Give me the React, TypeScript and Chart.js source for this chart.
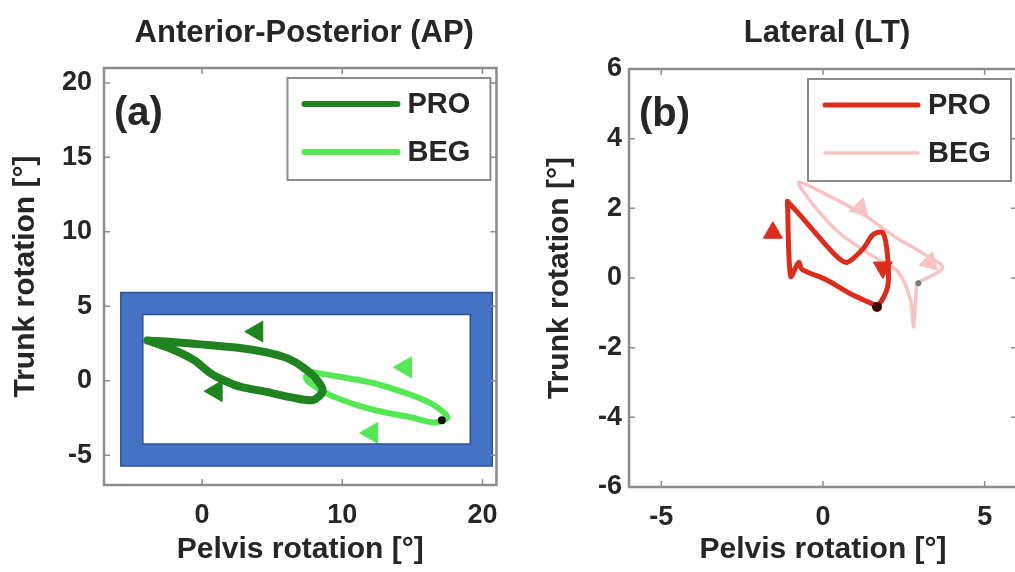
import React, { useEffect, useRef } from 'react';
import { Chart, registerables } from 'chart.js';

Chart.register(...registerables);

const FONT = "'Liberation Sans', Arial, Helvetica, sans-serif";
const TEXT = '#262626';
const AXIS = '#8c8c8c';

// ---------- Panel (a): Anterior-Posterior ----------
const AP_TITLE = 'Anterior-Posterior (AP)';
const AP_TAG = '(a)';
const AP_X_TICKS = [0, 10, 20];
const AP_Y_TICKS = [-5, 0, 5, 10, 15, 20];
const AP_X_RANGE = [-7, 21];
const AP_Y_RANGE = [-7, 21];
const AP_PRO_X = [-3.9, -2.1, 0.4, 2.7, 4.6, 6.1, 7.2, 8.2, 8.6, 7.9, 6.3, 4.6, 2.7, 1.5, 0.6, -0.6, -2.1, -3.9];
const AP_PRO_Y = [2.7, 2.6, 2.4, 2.2, 1.9, 1.5, 0.9, 0.05, -0.7, -1.3, -1.1, -0.75, -0.4, 0.05, 0.5, 1.4, 2.1, 2.7];
const AP_BEG_X = [7.7, 9.9, 12.2, 14.6, 16.3, 17.2, 17.5, 16.5, 14.9, 12.9, 11.1, 9.1, 7.7, 7.4, 7.7];
const AP_BEG_Y = [0.6, 0.25, -0.15, -0.85, -1.5, -2.1, -2.5, -2.8, -2.45, -2.1, -1.65, -0.95, -0.15, 0.25, 0.6];
const AP_PRO_ARROW_X = [3.9, 1.0];
const AP_PRO_ARROW_Y = [3.3, -0.7];
const AP_PRO_ARROW_DIR = [270, 270];
const AP_BEG_ARROW_X = [14.5, 12.1];
const AP_BEG_ARROW_Y = [0.9, -3.5];
const AP_BEG_ARROW_DIR = [270, 270];
const AP_START_X = [17.1];
const AP_START_Y = [-2.65];
// highlight frame (data units): xMin, xMax, yMin, yMax
const AP_FRAME = [-5.8, 20.7, -5.72, 5.93];

// ---------- Panel (b): Lateral ----------
const LT_TITLE = 'Lateral (LT)';
const LT_TAG = '(b)';
const LT_X_TICKS = [-5, 0, 5];
const LT_Y_TICKS = [-6, -4, -2, 0, 2, 4, 6];
const LT_X_RANGE = [-6, 6];
const LT_Y_RANGE = [-6, 6];
const LT_PRO_X = [-1.1, -1.0, -0.75, -0.65, 0.1, 0.85, 1.55, 1.7, 2.0, 2.0, 1.85, 1.55, 1.25, 0.75, 0.45, -0.1, -0.75, -1.1];
const LT_PRO_Y = [2.2, 0.05, 0.45, 0.25, -0.05, -0.45, -0.75, -0.8, -0.25, 0.6, 1.3, 1.25, 0.85, 0.45, 0.6, 1.15, 1.85, 2.2];
const LT_BEG_X = [2.9, 2.85, 2.8, 2.7, 2.3, 1.5, 0.5, -0.3, -0.75, 0.2, 1.2, 2.2, 3.1, 3.7, 2.9];
const LT_BEG_Y = [-0.15, -0.8, -1.4, -0.6, 0.2, 0.65, 1.3, 2.1, 2.75, 2.35, 1.85, 1.2, 0.7, 0.3, -0.15];
const LT_PRO_ARROW_X = [-1.55, 1.85];
const LT_PRO_ARROW_Y = [1.3, 0.3];
const LT_PRO_ARROW_DIR = [0, 180];
const LT_BEG_ARROW_X = [1.15, 3.3];
const LT_BEG_ARROW_Y = [2.0, 0.45];
const LT_BEG_ARROW_DIR = [135, 135];
const LT_PRO_START_X = [1.67];
const LT_PRO_START_Y = [-0.83];
const LT_BEG_START_X = [2.95];
const LT_BEG_START_Y = [-0.15];

const LEGEND_LABELS = ['PRO', 'BEG'];
const X_LABEL = 'Pelvis rotation [°]';
const Y_LABEL = 'Trunk rotation [°]';

const pts = (xs: number[], ys: number[]) => xs.map((x, i) => ({ x, y: ys[i] }));

const lineSet = (label: string, xs: number[], ys: number[], color: string, width: number, legend: boolean) => ({
  label,
  data: pts(xs, ys),
  showLine: true,
  borderColor: color,
  backgroundColor: color,
  borderWidth: width,
  pointRadius: 0,
  tension: 0.3,
  borderCapStyle: 'round',
  borderJoinStyle: 'round',
  legendEntry: legend,
});

const arrowSet = (xs: number[], ys: number[], dirs: number[], color: string, r: number) => ({
  label: 'arrow',
  data: pts(xs, ys),
  showLine: false,
  pointStyle: 'triangle',
  pointRotation: dirs,
  pointRadius: r,
  backgroundColor: color,
  borderColor: color,
  borderWidth: 1,
  legendEntry: false,
});

const dotSet = (xs: number[], ys: number[], color: string, r: number) => ({
  label: 'start',
  data: pts(xs, ys),
  showLine: false,
  pointStyle: 'circle',
  pointRadius: r,
  backgroundColor: color,
  borderColor: color,
  borderWidth: 0,
  legendEntry: false,
});

type PanelCfg = {
  title: string;
  tag: string;
  xRange: number[];
  yRange: number[];
  xTicks: number[];
  yTicks: number[];
  datasets: any[];
  frame?: number[];
  padTop: number;
  padRight: number;
  yWidth: number;
  xHeight: number;
  yTickPad: number;
  yTitlePad: number;
};

const GREEN_PRO = '#1f831f';
const GREEN_BEG = '#55e855';
const RED_PRO = '#dc2c1c';
const RED_BEG = '#f8c3c3';

const AP_CFG: PanelCfg = {
  title: AP_TITLE,
  tag: AP_TAG,
  xRange: AP_X_RANGE,
  yRange: AP_Y_RANGE,
  xTicks: AP_X_TICKS,
  yTicks: AP_Y_TICKS,
  frame: AP_FRAME,
  padTop: 68,
  padRight: 15,
  yWidth: 104,
  xHeight: 87,
  yTickPad: 12,
  yTitlePad: 8,
  datasets: [
    dotSet(AP_START_X, AP_START_Y, '#111111', 4),
    arrowSet(AP_PRO_ARROW_X, AP_PRO_ARROW_Y, AP_PRO_ARROW_DIR, GREEN_PRO, 12),
    lineSet(LEGEND_LABELS[0], AP_PRO_X, AP_PRO_Y, GREEN_PRO, 8, true),
    arrowSet(AP_BEG_ARROW_X, AP_BEG_ARROW_Y, AP_BEG_ARROW_DIR, GREEN_BEG, 12),
    lineSet(LEGEND_LABELS[1], AP_BEG_X, AP_BEG_Y, GREEN_BEG, 6, true),
  ],
};

const LT_CFG: PanelCfg = {
  title: LT_TITLE,
  tag: LT_TAG,
  xRange: LT_X_RANGE,
  yRange: LT_Y_RANGE,
  xTicks: LT_X_TICKS,
  yTicks: LT_Y_TICKS,
  padTop: 69,
  padRight: 13,
  yWidth: 109,
  xHeight: 85,
  yTickPad: 7,
  yTitlePad: 22,
  datasets: [
    dotSet(LT_PRO_START_X, LT_PRO_START_Y, '#3a0a06', 5),
    dotSet(LT_BEG_START_X, LT_BEG_START_Y, '#7a7a7a', 3),
    arrowSet(LT_PRO_ARROW_X, LT_PRO_ARROW_Y, LT_PRO_ARROW_DIR, RED_PRO, 11),
    lineSet(LEGEND_LABELS[0], LT_PRO_X, LT_PRO_Y, RED_PRO, 5, true),
    arrowSet(LT_BEG_ARROW_X, LT_BEG_ARROW_Y, LT_BEG_ARROW_DIR, RED_BEG, 11),
    lineSet(LEGEND_LABELS[1], LT_BEG_X, LT_BEG_Y, RED_BEG, 3.5, true),
  ],
};

const font = (size: number) => ({ family: FONT, size, weight: 'bold' as const });

function makeDeco(cfg: PanelCfg) {
  return {
    id: 'panelDeco',
    afterDatasetsDraw(chart: any) {
      const ctx = chart.ctx as CanvasRenderingContext2D;
      const { left, right, top, bottom } = chart.chartArea;
      const xs = chart.scales.x;
      const ys = chart.scales.y;
      ctx.save();

      // highlight frame
      if (cfg.frame) {
        const fx0 = xs.getPixelForValue(cfg.frame[0]);
        const fx1 = xs.getPixelForValue(cfg.frame[1]);
        const fy0 = ys.getPixelForValue(cfg.frame[3]);
        const fy1 = ys.getPixelForValue(cfg.frame[2]);
        const t = 22;
        ctx.beginPath();
        ctx.rect(fx0, fy0, fx1 - fx0, fy1 - fy0);
        ctx.rect(fx0 + t, fy0 + t, fx1 - fx0 - 2 * t, fy1 - fy0 - 2 * t);
        ctx.fillStyle = '#4472c4';
        ctx.fill('evenodd');
        ctx.strokeStyle = '#2f528f';
        ctx.lineWidth = 1.5;
        ctx.stroke();
      }

      // axes box
      ctx.strokeStyle = AXIS;
      ctx.lineWidth = 2.5;
      ctx.strokeRect(left, top, right - left, bottom - top);
      // inward ticks
      ctx.lineWidth = 1.5;
      ctx.beginPath();
      cfg.xTicks.forEach((v) => {
        const p = xs.getPixelForValue(v);
        ctx.moveTo(p, bottom); ctx.lineTo(p, bottom - 6);
        ctx.moveTo(p, top); ctx.lineTo(p, top + 6);
      });
      cfg.yTicks.forEach((v) => {
        const p = ys.getPixelForValue(v);
        ctx.moveTo(left, p); ctx.lineTo(left + 6, p);
        ctx.moveTo(right, p); ctx.lineTo(right - 6, p);
      });
      ctx.stroke();

      // legend
      const entries = chart.data.datasets.filter((d: any) => d.legendEntry);
      const bw = 203, bh = 102;
      const bx = right - 6 - bw, by = top + 10;
      ctx.fillStyle = '#ffffff';
      ctx.fillRect(bx, by, bw, bh);
      ctx.strokeStyle = AXIS;
      ctx.lineWidth = 2;
      ctx.strokeRect(bx, by, bw, bh);
      entries.forEach((d: any, i: number) => {
        const ly = by + 26 + i * 48;
        ctx.beginPath();
        ctx.strokeStyle = d.borderColor;
        ctx.lineWidth = Math.min(d.borderWidth, 6);
        ctx.lineCap = 'round';
        ctx.moveTo(bx + 17, ly);
        ctx.lineTo(bx + 110, ly);
        ctx.stroke();
        ctx.fillStyle = TEXT;
        ctx.font = `bold 29px ${FONT}`;
        ctx.textAlign = 'left';
        ctx.textBaseline = 'middle';
        ctx.fillText(d.label, bx + 120, ly + 1);
      });

      // panel tag
      ctx.fillStyle = TEXT;
      ctx.font = `bold 40px ${FONT}`;
      ctx.textAlign = 'left';
      ctx.textBaseline = 'alphabetic';
      ctx.fillText(cfg.tag, left + 10, top + 57);

      // panel title
      ctx.font = `bold 31px ${FONT}`;
      ctx.textAlign = 'center';
      ctx.fillText(cfg.title, (left + right) / 2 + 4, 42);
      ctx.restore();
    },
  };
}

function buildConfig(cfg: PanelCfg): any {
  return {
    type: 'scatter',
    data: { datasets: cfg.datasets },
    options: {
      responsive: false,
      maintainAspectRatio: false,
      animation: false,
      devicePixelRatio: 1,
      events: [],
      layout: { padding: { left: 0, top: cfg.padTop, right: cfg.padRight, bottom: 0 } },
      plugins: { legend: { display: false }, tooltip: { enabled: false }, title: { display: false } },
      scales: {
        x: {
          type: 'linear',
          min: cfg.xRange[0],
          max: cfg.xRange[1],
          afterBuildTicks: (s: any) => { s.ticks = cfg.xTicks.map((v) => ({ value: v })); },
          afterFit: (s: any) => { s.height = cfg.xHeight; },
          grid: { display: false, drawTicks: false },
          border: { display: false },
          ticks: { font: font(27), color: TEXT, padding: 14, maxRotation: 0, autoSkip: false },
          title: { display: true, text: X_LABEL, font: font(30), color: TEXT, padding: { top: 0, bottom: 4 } },
        },
        y: {
          type: 'linear',
          min: cfg.yRange[0],
          max: cfg.yRange[1],
          afterBuildTicks: (s: any) => { s.ticks = cfg.yTicks.map((v) => ({ value: v })); },
          afterFit: (s: any) => { s.width = cfg.yWidth; },
          grid: { display: false, drawTicks: false },
          border: { display: false },
          ticks: { font: font(27), color: TEXT, padding: cfg.yTickPad, autoSkip: false },
          title: { display: true, text: Y_LABEL, font: font(30), color: TEXT, padding: { top: cfg.yTitlePad, bottom: 0 } },
        },
      },
    },
    plugins: [makeDeco(cfg)],
  };
}

function Panel({ cfg, left, width }: { cfg: PanelCfg; left: number; width: number }) {
  const ref = useRef<HTMLCanvasElement>(null);
  useEffect(() => {
    const chart = new Chart(ref.current as HTMLCanvasElement, buildConfig(cfg));
    return () => chart.destroy();
  }, [cfg]);
  return (
    <canvas
      ref={ref}
      width={width}
      height={572}
      style={{ position: 'absolute', left, top: 0, width, height: 572 }}
    />
  );
}

export default function App() {
  return (
    <div
      style={{
        position: 'absolute',
        left: 0,
        top: 0,
        width: 1015,
        height: 572,
        overflow: 'hidden',
        background: '#ffffff',
      }}
    >
      <Panel cfg={AP_CFG} left={0} width={512} />
      <Panel cfg={LT_CFG} left={520} width={510} />
    </div>
  );
}
